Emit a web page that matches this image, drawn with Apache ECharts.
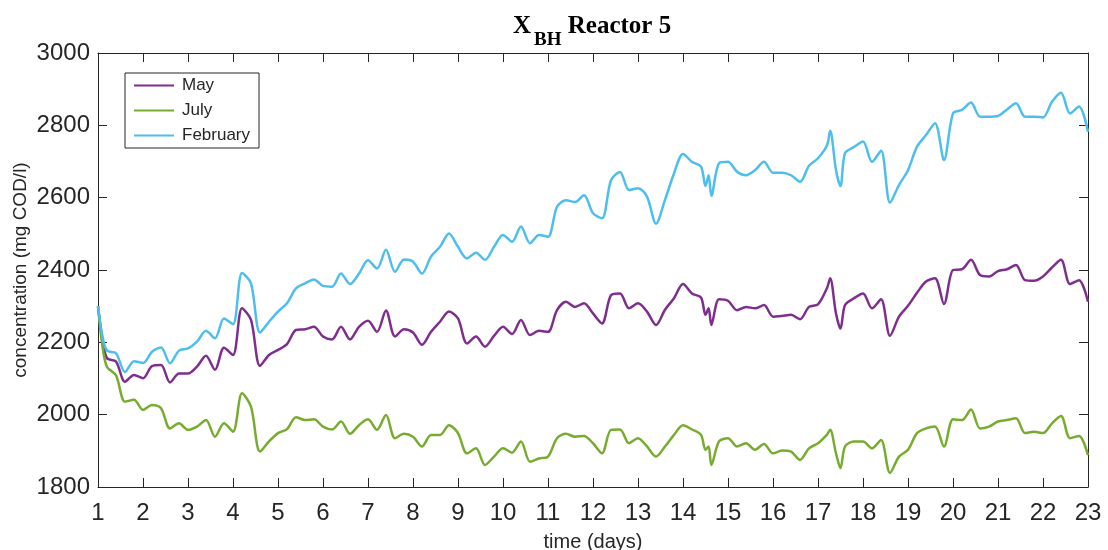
<!DOCTYPE html>
<html>
<head>
<meta charset="utf-8">
<script src="https://cdn.jsdelivr.net/npm/echarts@6/dist/echarts.min.js"></script>
<style>
html,body{margin:0;padding:0;background:#fff;}
#chart{width:1108px;height:550px;}
</style>
</head>
<body>
<div id="chart"></div>
<script>
// time axis (days)
const days = [
  1, 1.1, 1.2, 1.4, 1.6, 1.8,
  2, 2.2, 2.4, 2.6, 2.8,
  3, 3.2, 3.4, 3.6, 3.8,
  4, 4.2, 4.4, 4.6, 4.8,
  5, 5.2, 5.4, 5.6, 5.8,
  6, 6.2, 6.4, 6.6, 6.8,
  7, 7.2, 7.4, 7.6, 7.8,
  8, 8.2, 8.4, 8.6, 8.8,
  9, 9.2, 9.4, 9.6, 9.8,
  10, 10.2, 10.4, 10.6, 10.8,
  11, 11.2, 11.4, 11.6, 11.8,
  12, 12.2, 12.4, 12.6, 12.8,
  13, 13.2, 13.4, 13.6, 13.8,
  14, 14.2, 14.4, 14.5, 14.57, 14.63, 14.8,
  15, 15.2, 15.4, 15.6, 15.8,
  16, 16.2, 16.4, 16.6, 16.8,
  17, 17.2, 17.27, 17.4, 17.5, 17.6, 17.8,
  18, 18.2, 18.4, 18.6, 18.8,
  19, 19.2, 19.4, 19.6, 19.8,
  20, 20.2, 20.4, 20.6, 20.8,
  21, 21.2, 21.4, 21.6, 21.8,
  22, 22.2, 22.4, 22.6, 22.8,
  23
];

const may = [
  2300, 2206, 2156, 2147, 2091, 2110,
  2101, 2134, 2137, 2089, 2114,
  2114, 2133, 2163, 2124, 2185,
  2165, 2294, 2262, 2135, 2165,
  2179, 2195, 2234, 2236, 2243,
  2216, 2208, 2243, 2208, 2243,
  2260, 2229, 2288, 2216, 2236,
  2227, 2193, 2229, 2257, 2285,
  2266, 2197, 2216, 2188, 2218,
  2243, 2223, 2262, 2220, 2232,
  2229, 2289, 2312, 2298, 2308,
  2280, 2252, 2330, 2335, 2294,
  2308, 2285, 2248, 2290, 2322,
  2361, 2335, 2324, 2276, 2294, 2248, 2319,
  2315, 2289, 2298, 2294, 2303,
  2271, 2273, 2276, 2264, 2298,
  2305, 2350, 2377, 2280, 2238, 2303, 2322,
  2335, 2294, 2319, 2218, 2271,
  2301, 2337, 2368, 2377, 2306,
  2400, 2402, 2428, 2386, 2382,
  2397, 2402, 2414, 2372, 2370,
  2382, 2407, 2428, 2361, 2372,
  2312
];

const july = [
  2300, 2188, 2132, 2109, 2036, 2041,
  2013, 2027, 2018, 1962, 1976,
  1958, 1967, 1985, 1939, 1976,
  1953, 2059, 2022, 1898, 1926,
  1949, 1960, 1993, 1985, 1987,
  1967, 1959, 1981, 1947, 1971,
  1987, 1958, 1999, 1935, 1947,
  1939, 1912, 1944, 1944, 1971,
  1949, 1893, 1907, 1861, 1884,
  1907, 1895, 1926, 1870, 1879,
  1884, 1935, 1947, 1939, 1941,
  1921, 1893, 1958, 1959, 1921,
  1935, 1912, 1884, 1912, 1944,
  1971, 1959, 1944, 1903, 1912, 1861, 1926,
  1935, 1912, 1921, 1903, 1919,
  1893, 1901, 1898, 1875, 1907,
  1921, 1945, 1958, 1893, 1852, 1912, 1926,
  1926, 1907, 1930, 1839, 1884,
  1903, 1949, 1962, 1967, 1912,
  1987, 1985, 2014, 1962, 1967,
  1981, 1985, 1990, 1949, 1953,
  1949, 1976, 1996, 1935, 1941,
  1888
];

const february = [
  2300, 2216, 2177, 2170, 2118, 2148,
  2143, 2174, 2186, 2142, 2177,
  2183, 2202, 2232, 2211, 2266,
  2250, 2392, 2363, 2227, 2257,
  2285, 2308, 2349, 2363, 2374,
  2356, 2354, 2390, 2361, 2390,
  2427, 2404, 2456, 2395, 2429,
  2423, 2390, 2437, 2464, 2501,
  2464, 2432, 2448, 2428, 2464,
  2497, 2478, 2520, 2474, 2497,
  2492, 2575, 2593, 2588, 2607,
  2557, 2543, 2648, 2671, 2621,
  2626, 2603, 2528, 2594, 2667,
  2721, 2699, 2686, 2632, 2662, 2605, 2695,
  2699, 2672, 2662, 2676, 2699,
  2669, 2669, 2662, 2644, 2688,
  2709, 2745, 2785, 2676, 2632, 2723, 2740,
  2755, 2699, 2730, 2586, 2635,
  2676, 2741, 2773, 2806, 2704,
  2833, 2843, 2863, 2824, 2824,
  2826, 2844, 2861, 2824, 2824,
  2822, 2865, 2890, 2833, 2852,
  2782
];

const seriesNames = ['May', 'July', 'February'];
const seriesColors = ['#7E2F8E', '#77AC30', '#4DBEEE'];
const seriesValues = [may, july, february];

const axisColor = '#262626';
const chart = echarts.init(document.getElementById('chart'), null, {renderer: 'canvas'});

const pairs = vals => days.map((d, i) => [d, vals[i]]);

const option = {
  backgroundColor: '#ffffff',
  animation: false,
  title: {
    text: '{x|X}{s|BH}{x| Reactor 5}',
    left: 513,
    top: 3,
    padding: 0,
    textStyle: {
      rich: {
        x: {fontFamily: 'Liberation Serif', fontWeight: 'bold', fontSize: 25, color: '#000'},
        s: {fontFamily: 'Liberation Serif', fontWeight: 'bold', fontSize: 19, color: '#000', padding: [28, 0, 0, 3]}
      }
    }
  },
  legend: {
    data: seriesNames,
    orient: 'vertical',
    left: 125,
    top: 73,
    padding: [4, 9, 4, 8],
    itemWidth: 40,
    itemHeight: 17,
    itemGap: 8,
    borderColor: axisColor,
    borderWidth: 1,
    backgroundColor: '#fff',
    itemStyle: {opacity: 0, color: 'rgba(0,0,0,0)', borderWidth: 0},
    textStyle: {fontFamily: 'Liberation Sans', fontSize: 17, color: axisColor, padding: [0, 0, 0, 3]}
  },
  grid: {left: 98, right: 20, top: 53, bottom: 63, containLabel: false, outerBoundsMode: 'none'},
  xAxis: [{
    type: 'value', min: 1, max: 23, interval: 1,
    name: 'time (days)', nameLocation: 'middle', nameGap: 45, nameMoveOverlap: false,
    nameTextStyle: {fontFamily: 'Liberation Sans', fontSize: 20, color: axisColor},
    axisLine: {lineStyle: {color: axisColor, width: 1}},
    axisTick: {inside: true, length: 9, lineStyle: {color: axisColor}},
    axisLabel: {fontFamily: 'Liberation Sans', fontSize: 24, color: axisColor, margin: 14},
    splitLine: {show: false}
  }, {
    type: 'value', min: 1, max: 23, interval: 1, position: 'top',
    axisLine: {show: true, lineStyle: {color: axisColor, width: 1}},
    axisTick: {show: true, inside: true, length: 9, lineStyle: {color: axisColor}},
    axisLabel: {show: false},
    splitLine: {show: false}
  }],
  yAxis: [{
    type: 'value', min: 1800, max: 3000, interval: 200,
    name: 'concentration (mg COD/l)', nameLocation: 'middle', nameGap: 68, nameMoveOverlap: false,
    nameTextStyle: {fontFamily: 'Liberation Sans', fontSize: 19, color: axisColor},
    axisLine: {show: true, lineStyle: {color: axisColor, width: 1}},
    axisTick: {show: true, inside: true, length: 9, lineStyle: {color: axisColor}},
    axisLabel: {fontFamily: 'Liberation Sans', fontSize: 24, color: axisColor, margin: 8,
      formatter: v => String(v)},
    splitLine: {show: false}
  }, {
    type: 'value', min: 1800, max: 3000, interval: 200, position: 'right',
    axisLine: {show: true, lineStyle: {color: axisColor, width: 1}},
    axisTick: {show: true, inside: true, length: 9, lineStyle: {color: axisColor}},
    axisLabel: {show: false},
    splitLine: {show: false}
  }],
  series: seriesNames.map((name, k) => ({
    name: name,
    type: 'line',
    xAxisIndex: 0,
    yAxisIndex: 0,
    data: pairs(seriesValues[k]),
    symbol: 'none',
    smooth: 0.3,
    color: seriesColors[k],
    lineStyle: {width: 2.5, color: seriesColors[k]}
  }))
};

chart.setOption(option);
</script>
</body>
</html>
